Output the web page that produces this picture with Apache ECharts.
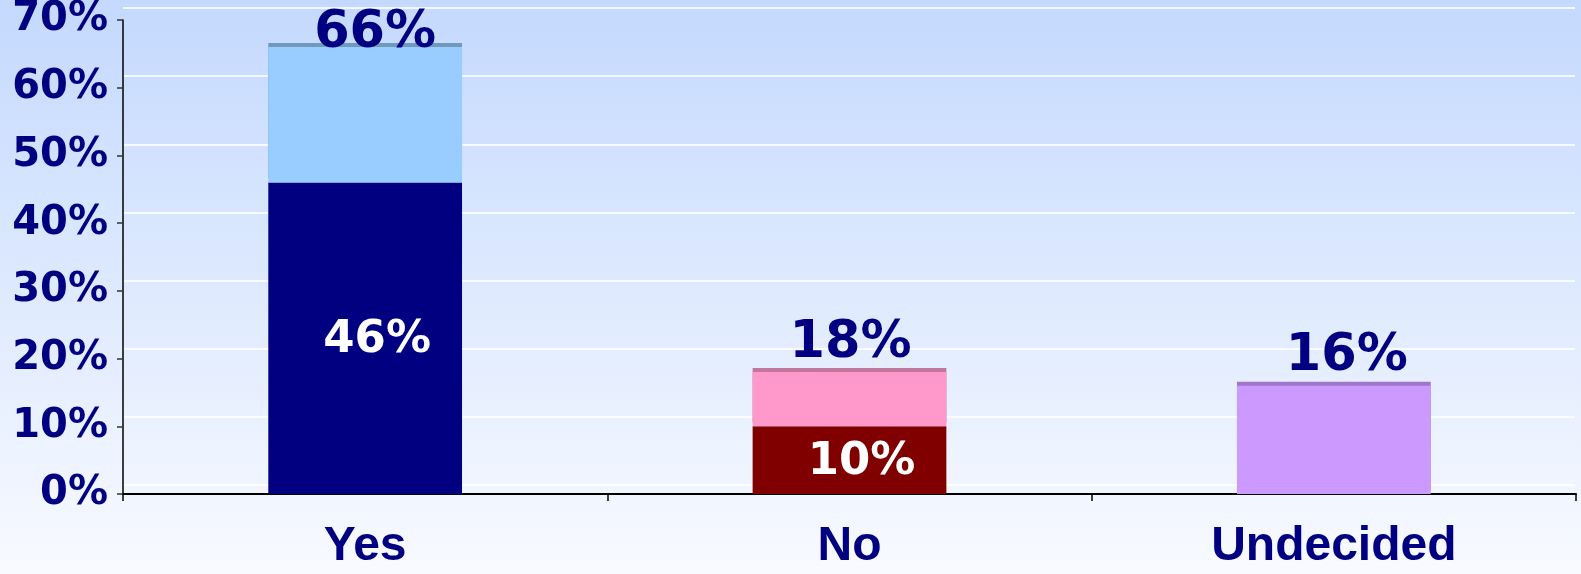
<!DOCTYPE html>
<html><head><meta charset="utf-8">
<script src="https://cdn.jsdelivr.net/npm/echarts@6/dist/echarts.min.js"></script>
<style>html,body{margin:0;padding:0;}#c{width:1581px;height:574px;}</style>
</head><body><div id="c"></div>
<script>
const categories = ['Yes', 'No', 'Undecided'];
const lowerValues = [46, 10, 0];
const upperValues = [20, 8, 16];
const yTicks = [0, 10, 20, 30, 40, 50, 60, 70];

const lowerColors = ['#000080', '#800000', '#CC99FF'];
const upperColors = ['#99CCFF', '#FF99CC', '#CC99FF'];
const capColors = ['#7099BB', '#C0779B', '#9E77C6'];
const topLabelStyle = [{distance: -12, dx: 10}, {distance: 3, dx: 1}, {distance: 3, dx: 13}];

const navy = '#000080';
const chart = echarts.init(document.getElementById('c'));
chart.setOption({
  backgroundColor: new echarts.graphic.LinearGradient(0, 0, 0, 1, [
    {offset: 0, color: '#C4D9FE'}, {offset: 1, color: '#F8FAFF'}
  ]),
  animation: false,
  grid: [
    {left: 123, right: 5, top: 17, bottom: 80},
    {left: 123, right: 6, top: 8, bottom: 89}
  ],
  xAxis: [
    {
      type: 'category', data: categories, gridIndex: 0,
      axisLine: {lineStyle: {color: '#000', width: 2}},
      axisTick: {show: true, length: 7, lineStyle: {color: '#000', width: 1.5}},
      axisLabel: {color: navy, fontFamily: 'Liberation Sans', fontWeight: 'bold', fontSize: 48, margin: 29}
    },
    {type: 'value', gridIndex: 1, show: false, min: 0, max: 1}
  ],
  yAxis: [
    {
      type: 'value', gridIndex: 0, min: yTicks[0], max: yTicks[yTicks.length - 1], interval: 10,
      axisLine: {show: true, lineStyle: {color: '#000', width: 1.5}},
      axisTick: {show: true, length: 6, lineStyle: {color: '#333', width: 1.5}},
      splitLine: {show: false},
      axisLabel: {formatter: '{value}%', color: navy, fontFamily: 'DejaVu Sans', fontWeight: 'bold', fontSize: 40, margin: 15}
    },
    {
      type: 'value', gridIndex: 1, min: yTicks[0], max: yTicks[yTicks.length - 1], interval: 10,
      axisLine: {show: false}, axisTick: {show: false}, axisLabel: {show: false},
      splitLine: {show: true, lineStyle: {color: '#FFFFFF', width: 2, opacity: 0.8}}
    }
  ],
  series: [
    {
      type: 'bar', stack: 's', barWidth: '40%', xAxisIndex: 0, yAxisIndex: 0,
      data: lowerValues.map((v, i) => ({value: v, itemStyle: {color: lowerColors[i]}})),
      label: {
        show: true, position: 'inside', offset: [12, 2],
        formatter: p => p.value ? p.value + '%' : '',
        color: '#FFFFFF', fontFamily: 'DejaVu Sans', fontWeight: 'bold', fontSize: 45
      }
    },
    {
      type: 'bar', stack: 's', barWidth: '40%', xAxisIndex: 0, yAxisIndex: 0,
      data: upperValues.map((v, i) => ({
        value: v,
        itemStyle: {color: upperColors[i], shadowColor: capColors[i], shadowOffsetY: -4, shadowBlur: 0},
        label: {distance: topLabelStyle[i].distance, offset: [topLabelStyle[i].dx, 0]}
      })),
      label: {
        show: true, position: 'top',
        formatter: p => (lowerValues[p.dataIndex] + upperValues[p.dataIndex]) + '%',
        color: navy, fontFamily: 'DejaVu Sans', fontWeight: 'bold', fontSize: 51
      }
    }
  ]
});
</script></body></html>
